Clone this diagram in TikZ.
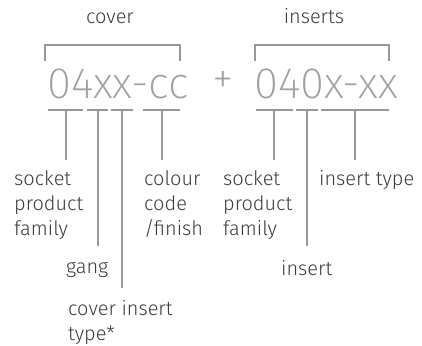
\documentclass[tikz,border=0pt]{standalone}
\usepackage{fontspec}
\setmainfont{Fira Sans}[UprightFont=* Light]
\newfontfamily\codefont{Fira Sans}[UprightFont=* ExtraLight]
\definecolor{labelgray}{HTML}{3C3C3C}
\definecolor{codegray}{HTML}{A0A0A0}
\definecolor{linegray}{HTML}{999999}
\begin{document}
\begin{tikzpicture}[x=1bp,y=-1bp,
  lbl/.style={anchor=base west,inner sep=0pt,text=labelgray,font=\fontsize{20}{25}\selectfont,align=left},
  head/.style={anchor=base,inner sep=0pt,text=labelgray,font=\fontsize{20}{25}\selectfont},
  code/.style={anchor=base west,inner sep=0pt,text=codegray,font=\codefont\fontsize{44}{44}\selectfont},
  brk/.style={draw=linegray,line width=2bp},
  bar/.style={draw=linegray,line width=2bp}]
\useasboundingbox (0,0) rectangle (422,346);
% headings
\node[head] (cover) at (110,23) {cover};
\node[head] (inserts) at (314,23) {inserts};
% codes
\node[code] (c1) at (47,98) {04xx-cc};
\node[code,anchor=center] (plus) at (223,82) {+};
\node[code] (c2) at (254,98) {040x-xx};
% brackets
\draw[brk] (45,61) -- (45,44.5) -- (180,44.5) -- (180,61);
\draw[brk] (255,61) -- (255,44.5) -- (389,44.5) -- (389,61);
% bars left
\draw[bar] (48,110) -- (83,110) (66,110) -- (66,160);
\draw[bar] (87,110) -- (108,110) (98,110) -- (98,246);
\draw[bar] (111,110) -- (133,110) (122,110) -- (122,288);
\draw[bar] (143,110) -- (180,110) (162,110) -- (162,160);
% bars right
\draw[bar] (256,110) -- (293,110) (274,110) -- (274,160);
\draw[bar] (296,110) -- (318,110) (307,110) -- (307,246);
\draw[bar] (321,110) -- (389,110) (355,110) -- (355,160);
% labels (base = last line)
\node[lbl] (spf1) at (14,235) {socket\\product\\family};
\node[lbl] (ccf) at (144,235) {colour\\code\\/finish};
\node[lbl] (gang) at (66,273) {gang};
\node[lbl] (cit) at (68,340) {cover insert\\type*};
\node[lbl] (spf2) at (223,235) {socket\\product\\family};
\node[lbl] (itype) at (319,185) {insert type};
\node[lbl] (ins) at (281,275) {insert};
\end{tikzpicture}
\end{document}
